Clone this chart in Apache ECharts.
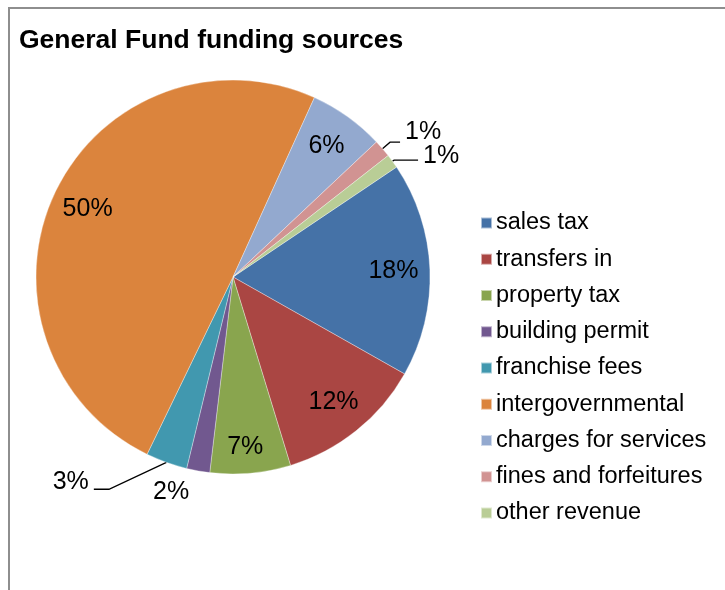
<!DOCTYPE html>
<html><head><meta charset="utf-8">
<script src="https://cdn.jsdelivr.net/npm/echarts@6/dist/echarts.min.js"></script>
<style>
html,body{margin:0;padding:0;background:#fff;}
#frame{position:absolute;left:8px;top:7px;width:800px;height:700px;border:2px solid #8e8e8e;box-sizing:border-box;}
#chart{position:absolute;left:0;top:0;width:725px;height:590px;}
</style></head><body>
<div id="frame"></div><div id="chart"></div>
<script>
// ---- data ----
const titleText = 'General Fund funding sources';
const categories = ['sales tax','transfers in','property tax','building permit','franchise fees','intergovernmental','charges for services','fines and forfeitures','other revenue'];
const values = [17.6, 12.1, 6.6, 1.9, 3.4, 49.6, 6.2, 1.45, 1.15];
const colors = ['#4572A7','#AA4643','#89A54E','#71588F','#4198AF','#DB843D','#93A9CF','#D19392','#B9CD96'];

// ---- styling of labels (not data) ----
const outsideLabels = {
  3: {length: 22, length2: 0, line: false, lift: 0, turn: 90},
  4: {length: 28.5, length2: 63, line: true, lift: 7, turn: 155},
  7: {length: 10, length2: 10, line: true, lift: 10, turn: 90},
  8: {length: 2, length2: 24, line: true, lift: 4, turn: 90}
};
const insideOffsets = {2: [-2, 10]};
const font = "'Liberation Sans', Arial, sans-serif";
const pct = p => Math.round(p.percent) + '%';
const center = [233, 277];
const R = 197;
const startAngle = 33.9;

const mainData = categories.map((name, i) => {
  const o = outsideLabels[i];
  const item = {name, value: values[i], itemStyle: {color: colors[i]}};
  if (o) {
    const lift = o.lift;
    item.label = {
      show: true, position: 'outside',
      formatter: p => lift > 0 ? '{t|' + pct(p) + '}\n{s| }' : '{t|' + pct(p) + '}',
      rich: {
        t: {fontFamily: font, fontSize: 25, lineHeight: 25, color: '#000'},
        s: {fontSize: 1, lineHeight: lift * 2}
      }
    };
    item.labelLine = {show: o.line, length: o.length, length2: o.length2, smooth: false,
      minTurnAngle: o.turn, maxSurfaceAngle: 180,
      lineStyle: {color: '#000', width: 1.3}};
  }
  return item;
});
const ringData = categories.map((name, i) => {
  const item = {name, value: values[i], label: {show: !outsideLabels[i]}};
  if (insideOffsets[i]) item.label.offset = insideOffsets[i];
  return item;
});

const chart = echarts.init(document.getElementById('chart'), null, {renderer: 'canvas'});
chart.setOption({
  animation: false,
  backgroundColor: 'transparent',
  title: {
    text: titleText, left: 19, top: 27, padding: 0,
    textStyle: {fontFamily: font, fontWeight: 'bold', fontSize: 26.5, color: '#000'}
  },
  legend: {
    orient: 'vertical', left: 480, top: 211, padding: 0,
    icon: 'rect', itemWidth: 11, itemHeight: 11, itemGap: 12.25,
    data: categories,
    textStyle: {fontFamily: font, fontSize: 23.5, color: '#000', lineHeight: 24, padding: [0,0,0,-1]}
  },
  series: [
    {
      type: 'pie', center: center, radius: [0, R], startAngle: startAngle, clockwise: true,
      avoidLabelOverlap: false, silent: true,
      labelLayout: {hideOverlap: false, moveOverlap: null},
      emphasis: {disabled: true, scale: false},
      itemStyle: {borderColor: 'rgba(255,255,255,0.55)', borderWidth: 0.6},
      label: {show: false, fontFamily: font, fontSize: 25, color: '#000', distanceToLabelLine: 5},
      labelLine: {show: false},
      data: mainData
    },
    {
      type: 'pie', center: center, radius: [R * 0.6, R], startAngle: startAngle, clockwise: true,
      avoidLabelOverlap: false, silent: true,
      emphasis: {disabled: true, scale: false},
      itemStyle: {color: 'rgba(0,0,0,0)', borderWidth: 0},
      label: {show: true, position: 'inside', formatter: pct, fontFamily: font, fontSize: 25, color: '#000'},
      labelLine: {show: false},
      data: ringData
    }
  ]
});
</script>
</body></html>
